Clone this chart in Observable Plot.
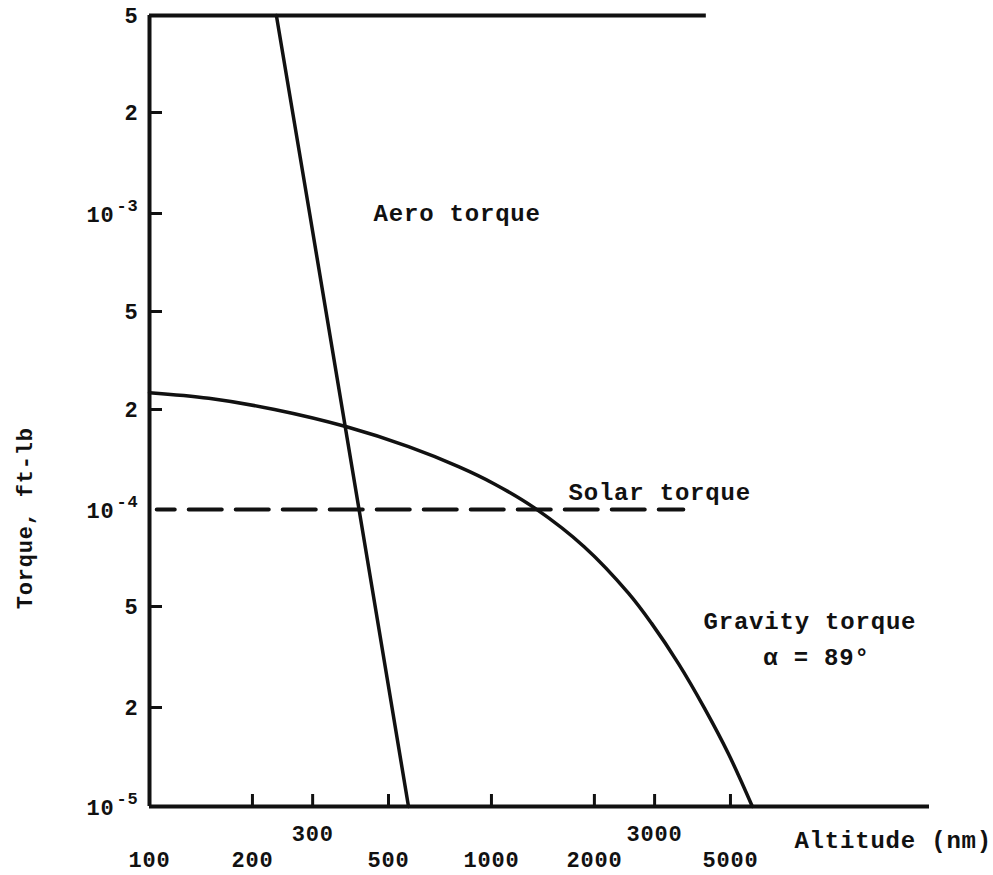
<!DOCTYPE html>
<html>
<head>
<meta charset="utf-8">
<script src="https://cdn.jsdelivr.net/npm/d3@7"></script>
<script src="https://cdn.jsdelivr.net/npm/@observablehq/plot@0.6"></script>
<style>
  html, body { margin: 0; padding: 0; background: #fff; }
  #chart svg text { letter-spacing: 0.8px; }
</style>
</head>
<body>
<div id="chart"></div>
<script>
// ---- data ----
const xTicks = [200, 300, 500, 1000, 2000, 3000, 5000];
const xLabelsLow = [100, 200, 500, 1000, 2000, 5000];
const xLabelsHigh = [300, 3000];
const yTickVals = [2e-5, 5e-5, 2e-4, 5e-4, 1e-3, 2e-3];
const yMantissa = [5e-3, 2e-3, 5e-4, 2e-4, 5e-5, 2e-5];
const yMantissaText = ["5", "2", "5", "2", "5", "2"];
const yDecades = [1e-3, 1e-4, 1e-5];
const yDecadeExp = ["-3", "-4", "-5"];
const yScaleStops = [1e-5, 2e-5, 5e-5, 1e-4, 2e-4, 5e-4, 1e-3, 2e-3, 5e-3];

const aeroAlt = [235, 294, 410, 572];
const aeroTorque = [5e-3, 1e-3, 1e-4, 1e-5];

const gravAlt = [100, 149, 232, 377, 572, 801, 1020, 1336, 1870, 2515, 2936, 3523, 4196, 4932, 5794];
const gravTorque = [2.34e-4, 2.221e-4, 2.0e-4, 1.774e-4, 1.546e-4, 1.346e-4, 1.194e-4, 1.011e-4, 7.65e-5, 5.501e-5, 4.30e-5, 2.979e-5, 1.992e-5, 1.447e-5, 1.0e-5];

const solarAlt = [105, 3640];
const solarTorque = [1e-4, 1e-4];

const topLineAlt = [100, 4250];
const xAxisEnd = 19100;

const annotations = [
  {x: 452, y: 1e-3, text: "Aero torque"},
  {x: 1680, y: 1.125e-4, text: "Solar torque"},
  {x: 4169, y: 4.36e-5, text: "Gravity torque"},
  {x: 6237, y: 3.15e-5, text: "\u03b1 = 89\u00b0"}
];

const aero = aeroAlt.map((a, i) => ({alt: a, t: aeroTorque[i]}));
const grav = gravAlt.map((a, i) => ({alt: a, t: gravTorque[i]}));
const solar = solarAlt.map((a, i) => ({alt: a, t: solarTorque[i]}));

const font = {fontFamily: "'Liberation Mono', 'DejaVu Sans Mono', monospace", fontWeight: "bold", fill: "#111"};
const ink = "#111";

const chart = Plot.plot({
  width: 993,
  height: 875,
  marginLeft: 149,
  marginRight: 64,
  marginTop: 15,
  marginBottom: 69,
  style: {background: "#fff"},
  x: {type: "log", domain: [100, xAxisEnd], range: [149, 929], axis: null},
  y: {type: "log", domain: yScaleStops, range: [806, 707, 606, 509, 409, 311, 213, 112, 15], axis: null},
  marks: [
    // axes frame
    Plot.ruleX([100], {y1: 1e-5, y2: 5e-3, stroke: ink, strokeWidth: 4}),
    Plot.ruleY([1e-5], {x1: 100, x2: xAxisEnd, stroke: ink, strokeWidth: 4}),
    Plot.ruleY([5e-3], {x1: topLineAlt[0], x2: topLineAlt[1], stroke: ink, strokeWidth: 4}),
    // ticks
    Plot.tickX(xTicks, {x: d => d, insetTop: 779, stroke: ink, strokeWidth: 3}),
    Plot.tickY(yTickVals, {y: d => d, insetRight: 767, stroke: ink, strokeWidth: 3}),
    // curves
    Plot.line(aero, {x: "alt", y: "t", stroke: ink, strokeWidth: 3.5}),
    Plot.line(grav, {x: "alt", y: "t", stroke: ink, strokeWidth: 3.5, curve: "catmull-rom"}),
    Plot.line(solar, {x: "alt", y: "t", stroke: ink, strokeWidth: 4, strokeDasharray: "33,14", strokeDashoffset: 15}),
    // x tick labels
    Plot.text(xLabelsLow, {x: d => d, y: () => 1e-5, text: d => String(d), dy: 53, fontSize: 22, ...font}),
    Plot.text(xLabelsHigh, {x: d => d, y: () => 1e-5, text: d => String(d), dy: 27, fontSize: 22, ...font}),
    Plot.text(["Altitude (nm)"], {x: () => 7690, y: () => 1e-5, text: d => d, dy: 34, textAnchor: "start", fontSize: 24, ...font}),
    // y tick labels
    Plot.text(yMantissa, {x: () => 100, y: d => d, text: (d, i) => yMantissaText[i], textAnchor: "end", dx: -11, fontSize: 22, ...font}),
    Plot.text(yDecades, {x: () => 100, y: d => d, text: () => "10", textAnchor: "end", dx: -35, dy: 1, fontSize: 22, ...font}),
    Plot.text(yDecades, {x: () => 100, y: d => d, text: (d, i) => yDecadeExp[i], textAnchor: "end", dx: -11, dy: -8, fontSize: 17, ...font}),
    Plot.text(["Torque, ft-lb"], {x: () => 100, y: () => 9.4e-5, text: d => d, dx: -125, rotate: -90, fontSize: 22, ...font}),
    // annotations
    Plot.text(annotations, {x: "x", y: "y", text: "text", textAnchor: "start", fontSize: 24, ...font})
  ]
});
document.getElementById("chart").appendChild(chart);
</script>
</body>
</html>
